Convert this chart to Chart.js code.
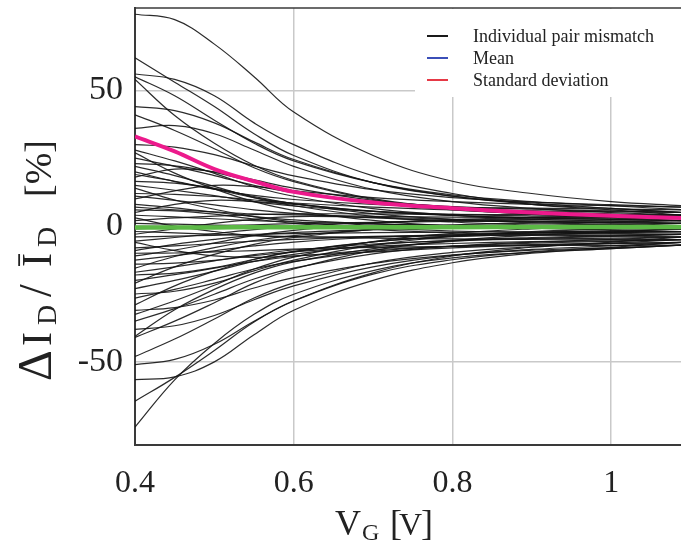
<!DOCTYPE html>
<html>
<head>
<meta charset="utf-8">
<script src="https://cdn.jsdelivr.net/npm/chart.js@4"></script>
<style>
  html, body { margin: 0; padding: 0; background: #fff; }
  #wrap { width: 681px; height: 544px; }
</style>
</head>
<body>
<div id="wrap"><canvas id="grafica" width="681" height="544"></canvas></div>
<script>
// gate voltage samples [V]
const vg = [0.4, 0.45, 0.5, 0.55, 0.6, 0.7, 0.8, 0.9, 1.0, 1.09]

// individual pair mismatch curves [%]
const pairMismatch = [
    [78, 76, 67, 55, 42, 26, 16.5, 12, 9, 7.5],
    [62, 53, 44, 34, 26, 16, 11, 8.5, 6.5, 5],
    [56, 54, 48, 38, 30, 18.5, 12, 8, 6, 4],
    [55, 48, 39, 30.5, 24, 16, 11.5, 9, 7.5, 6],
    [54, 40.7, 30.5, 22.4, 16.8, 10.1, 6.6, 5, 4, 3],
    [44, 42.5, 38, 31, 24.5, 16, 11, 8, 6.5, 5],
    [41, 35.2, 28.5, 21.5, 16.4, 9.8, 6.3, 4.3, 3.2, 2],
    [36, 37, 34, 28, 22, 13.5, 9, 6.5, 5, 4],
    [30, 29.1, 26.3, 22.2, 18.5, 13.4, 10.5, 8.8, 7.9, 7],
    [28, 24, 19.4, 14.5, 11, 6.4, 4, 2.6, 1.8, 1],
    [27, 19.5, 13.7, 9, 5.8, 2.1, 0, -0.8, -1.4, -2],
    [25, 22, 18.6, 15, 12.4, 9, 7.2, 6.2, 5.6, 5],
    [23, 22.2, 19.8, 16.2, 13, 8.6, 6, 4.6, 3.8, 3],
    [22, 18.6, 14.6, 10.5, 7.5, 3.6, 1.5, 0.4, -0.3, -1],
    [20, 16.4, 13.6, 11.3, 9.8, 8, 7, 6.6, 6.3, 6],
    [19, 16.5, 13.6, 10.5, 8.3, 5.4, 3.9, 3, 2.5, 2],
    [18, 21, 20, 17, 14, 9.5, 7, 5.5, 4.5, 4],
    [16.5, 15.8, 13.9, 10.9, 8.3, 4.6, 2.5, 1.3, 0.7, 0],
    [15, 13.2, 11.2, 9, 7.4, 5.4, 4.3, 3.7, 3.4, 3],
    [14, 9.6, 6.2, 3.5, 1.6, -0.6, -1.8, -2.3, -2.7, -3],
    [12, 11.7, 10.9, 9.6, 8.5, 7, 6, 5.6, 5.3, 5],
    [11, 9.5, 7.8, 6, 4.7, 3, 2.1, 1.6, 1.3, 1],
    [10, 13, 15, 14.5, 13, 10.5, 9, 8, 7.5, 7],
    [8, 6.7, 5.1, 3.5, 2.3, 0.8, 0, -0.5, -0.7, -1],
    [7, 6, 5.2, 4.5, 4.1, 3.6, 3.3, 3.2, 3.1, 3],
    [6, 5.6, 4.4, 2.6, 1, -1.2, -2.5, -3.2, -3.6, -4],
    [5, 8, 9.5, 9, 8, 5.5, 4, 3, 2.5, 2],
    [4, 3.4, 2.7, 2, 1.5, 0.8, 0.4, 0.2, 0.1, 0],
    [3, 0, -2, -3.5, -4, -3.8, -3.2, -2.6, -2.2, -2],
    [2, 3, 3.7, 4.2, 4.5, 4.5, 4.3, 4.2, 4.1, 4],
    [1, 0.7, 0.4, 0.1, -0.2, -0.5, -0.7, -0.8, -0.9, -1],
    [-1, -0.5, 0, 0.5, 0.9, 1.4, 1.7, 1.8, 1.9, 2],
    [-2, -2.5, -3, -3.5, -3.9, -4.4, -4.7, -4.8, -4.9, -5],
    [-3, -1, 1, 2.5, 3.5, 3.2, 2.5, 1.8, 1.3, 1],
    [-4, -3.7, -3.4, -3, -2.8, -2.4, -2.2, -2.1, -2.05, -2],
    [-5.5, -4.2, -2.8, -1.3, -0.1, 1.3, 2.1, 2.5, 2.7, 3],
    [-6, -9, -11, -11.5, -11, -9.5, -8, -7, -6.5, -6],
    [-8, -7.3, -6.4, -5.5, -4.9, -4, -3.6, -3.3, -3.2, -3],
    [-9, -6.7, -4.9, -3.4, -2.4, -1.3, -0.6, -0.4, -0.2, 0],
    [-10, -9.9, -9.5, -9, -8.5, -7.8, -7.5, -7.2, -7.1, -7],
    [-11, -8.8, -6.2, -3.5, -1.6, 1, 2.4, 3.1, 3.6, 4],
    [-12.5, -10.9, -9.1, -7.3, -5.9, -4.1, -3.2, -2.6, -2.3, -2],
    [-14, -13.6, -12.6, -10.9, -9.5, -7.5, -6.4, -5.7, -5.4, -5],
    [-15.5, -11.2, -7.9, -5.3, -3.5, -1.3, -0.2, 0.3, 0.7, 1],
    [-17, -15, -12.8, -10.5, -8.8, -6.6, -5.4, -4.8, -4.4, -4],
    [-18, -17.3, -15.3, -12.2, -9.5, -5.8, -3.6, -2.4, -1.7, -1],
    [-20, -17.9, -15.5, -13, -11.2, -8.8, -7.5, -6.8, -6.4, -6],
    [-21, -15, -10.4, -6.7, -4.2, -1.2, 0.4, 1.1, 1.5, 2],
    [-23, -20, -16.6, -13, -10.4, -7, -5.2, -4.2, -3.6, -3],
    [-25, -24, -21, -16.5, -12.5, -7, -3.8, -2, -1, 0],
    [-26.5, -23.3, -19.6, -15.8, -13, -9.3, -7.4, -6.3, -5.6, -5],
    [-29, -22, -16.6, -12.3, -9.3, -5.8, -3.9, -3.1, -2.5, -2],
    [-31, -30, -27.2, -22.8, -19, -13.7, -10.6, -8.9, -8, -7],
    [-32.5, -27.5, -21.8, -15.8, -11.4, -5.7, -2.7, -1, 0, 1],
    [-35, -30.4, -25.1, -19.5, -15.5, -10.2, -7.4, -5.9, -4.9, -4],
    [-38, -36.7, -32.9, -27.1, -22, -15, -10.8, -8.6, -7.3, -6],
    [-40.6, -30.8, -23.3, -17.3, -13.2, -8.3, -5.6, -4.5, -3.8, -3],
    [-41, -35, -28.2, -21, -15.8, -9, -5.4, -3.4, -2.2, -1],
    [-48, -41.6, -34.2, -26.5, -20.9, -13.6, -9.7, -7.6, -6.3, -5],
    [-51, -49.1, -43.5, -35, -27.5, -17.2, -11, -7.8, -5.9, -4],
    [-56.5, -55.5, -50, -40, -31, -20, -13.5, -10, -8.3, -7],
    [-64.5, -55.7, -45.8, -35.3, -27.6, -17.7, -12.4, -9.5, -7.8, -6],
    [-74, -56.6, -43.2, -32.5, -25.1, -16.4, -11.7, -9.7, -8.3, -7]
]

const meanCurve = [-0.5, -0.5, -0.5, -0.4, -0.4, -0.4, -0.4, -0.3, -0.3, -0.3]
const stdCurve = [33, 27.5, 21, 16.5, 12.6, 8.7, 6.6, 5, 3.8, 3]

const xTicks = [0.4, 0.6, 0.8, 1]
const yTicks = [-50, 0, 50]
const legendLabels = ['Individual pair mismatch', 'Mean', 'Standard deviation']
const legendColors = ['#1a1a1a', '#3b4fb8', '#e63946']

const serif = "'Liberation Serif', 'DejaVu Serif', serif"
const gridColor = '#c9c9c9'
const axisColor = '#3a3a3a'

const toPoints = arr => arr.map((v, i) => ({ x: vg[i], y: v }))

const datasets = pairMismatch.map(curve => ({
    data: toPoints(curve),
    borderColor: 'rgba(20, 20, 20, 0.9)',
    borderWidth: 1.2,
    pointRadius: 0,
    tension: 0.4,
    fill: false,
    order: 2
}))

datasets.push({
    data: toPoints(stdCurve),
    borderColor: '#ec1a8c',
    borderWidth: 4,
    pointRadius: 0,
    tension: 0.4,
    fill: false,
    order: 1
})
datasets.push({
    data: toPoints(meanCurve),
    borderColor: '#5cb946',
    borderWidth: 4.5,
    pointRadius: 0,
    tension: 0.4,
    fill: false,
    order: 0
})

//? texto con subindices, cada trozo en su posicion
function drawPieces(ctx, parts) {
    ctx.textAlign = 'left'
    ctx.textBaseline = 'alphabetic'
    parts.forEach(p => {
        ctx.font = p.size + 'px ' + serif
        ctx.fillText(p.t, p.at, p.dy || 0)
        if (p.bar) {
            const w = ctx.measureText(p.t).width
            ctx.fillRect(p.at + 1, -p.size * 0.78, w - 2, 1.8)
        }
    })
}

const decorations = {
    id: 'decorations',
    afterDatasetsDraw(chart) {
        const { ctx, chartArea } = chart
        ctx.save()
        // top frame line
        ctx.strokeStyle = axisColor
        ctx.lineWidth = 1.5
        ctx.beginPath()
        ctx.moveTo(chartArea.left, chartArea.top)
        ctx.lineTo(chartArea.right, chartArea.top)
        ctx.stroke()

        // legend
        ctx.fillStyle = '#ffffff'
        ctx.fillRect(415, chartArea.top + 1, 681 - 415, 88)
        const ys = [36, 58, 80]
        legendLabels.forEach((label, i) => {
            ctx.strokeStyle = legendColors[i]
            ctx.lineWidth = 2
            ctx.beginPath()
            ctx.moveTo(427, ys[i])
            ctx.lineTo(448, ys[i])
            ctx.stroke()
            ctx.fillStyle = '#222'
            ctx.font = '18px ' + serif
            ctx.textAlign = 'left'
            ctx.textBaseline = 'middle'
            ctx.fillText(label, 473, ys[i] + 1)
        })

        // x axis title
        ctx.fillStyle = '#222'
        ctx.save()
        ctx.translate(335, 535)
        drawPieces(ctx, [
            { t: 'V', size: 36, at: 0 },
            { t: 'G', size: 24, at: 27, dy: 5 },
            { t: '[', size: 36, at: 55 },
            { t: 'V', size: 32, at: 64 },
            { t: ']', size: 36, at: 86 }
        ])
        ctx.restore()

        // y axis title
        ctx.translate(51, 381)
        ctx.rotate(-Math.PI / 2)
        drawPieces(ctx, [
            { t: '\u0394', size: 48, at: 0 },
            { t: 'I', size: 42, at: 35 },
            { t: 'D', size: 28, at: 56, dy: 5 },
            { t: '/', size: 46, at: 84 },
            { t: 'I', size: 42, at: 114, bar: true },
            { t: 'D', size: 28, at: 134, dy: 5 },
            { t: '[%]', size: 38, at: 184 }
        ])
        ctx.restore()
    }
}

const grafica = new Chart(document.getElementById('grafica'), {
    type: 'line',
    data: { datasets: datasets },
    options: {
        responsive: false,
        animation: false,
        devicePixelRatio: 1,
        layout: { padding: { top: 8, right: 0, left: 0, bottom: 0 } },
        plugins: {
            legend: { display: false },
            tooltip: { enabled: false }
        },
        scales: {
            x: {
                type: 'linear',
                min: 0.4,
                max: 1.088,
                afterBuildTicks: s => { s.ticks = xTicks.map(v => ({ value: v })) },
                afterFit: s => {
                    s.height = 99
                    s.paddingLeft = 0
                    s.paddingRight = 0
                },
                ticks: {
                    callback: v => String(v),
                    font: { family: serif, size: 32 },
                    color: '#222',
                    padding: 19,
                    maxRotation: 0
                },
                grid: {
                    color: c => (c.tick && c.tick.value > 0.41) ? gridColor : 'rgba(0,0,0,0)',
                    lineWidth: 1.5,
                    drawTicks: false
                },
                border: { color: axisColor, width: 2 }
            },
            y: {
                type: 'linear',
                min: -80.6,
                max: 80.3,
                afterBuildTicks: s => { s.ticks = yTicks.map(v => ({ value: v })) },
                afterFit: s => {
                    s.width = 135
                    s.paddingTop = 0
                    s.paddingBottom = 0
                },
                ticks: {
                    font: { family: serif, size: 34 },
                    color: '#222',
                    padding: 12
                },
                grid: {
                    color: gridColor,
                    lineWidth: 1.5,
                    drawTicks: false
                },
                border: { color: axisColor, width: 2 }
            }
        }
    },
    plugins: [decorations]
})
</script>
</body>
</html>
